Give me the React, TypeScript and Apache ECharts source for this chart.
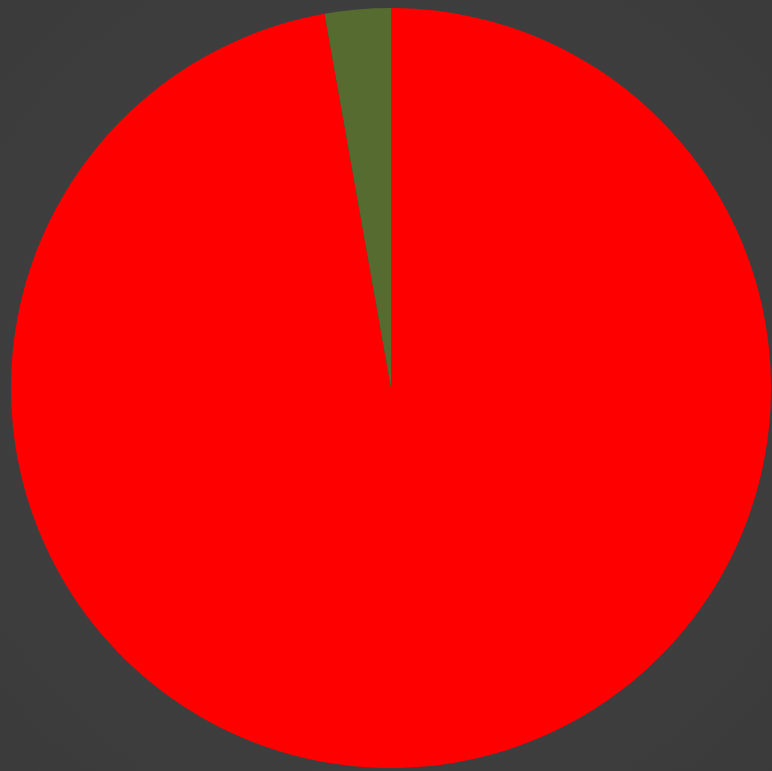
import React, { useEffect, useRef } from "react";
import * as echarts from "echarts";

const categories = ["Red", "Green"];
const values = [97.2, 2.8];
const colors = ["#ff0000", "#556b2f"];

export default function App() {
  const ref = useRef<HTMLDivElement>(null);
  useEffect(() => {
    if (!ref.current) return;
    const chart = echarts.init(ref.current, null, { renderer: "svg" });
    chart.setOption({
      animation: false,
      backgroundColor: {
        type: "radial",
        x: 0.5,
        y: 0.5,
        r: 0.75,
        colorStops: [
          { offset: 0, color: "#444444" },
          { offset: 1, color: "#3a3a3a" },
        ],
      },
      series: [
        {
          type: "pie",
          center: [391, 388],
          radius: 380,
          startAngle: 90,
          clockwise: true,
          label: { show: false },
          labelLine: { show: false },
          emphasis: { disabled: true },
          itemStyle: { borderWidth: 0 },
          data: categories.map((name, i) => ({
            name,
            value: values[i],
            itemStyle: { color: colors[i] },
          })),
        },
      ],
    });
    return () => chart.dispose();
  }, []);
  return (
    <div
      ref={ref}
      style={{ position: "absolute", left: 0, top: 0, width: 772, height: 771 }}
    />
  );
}
